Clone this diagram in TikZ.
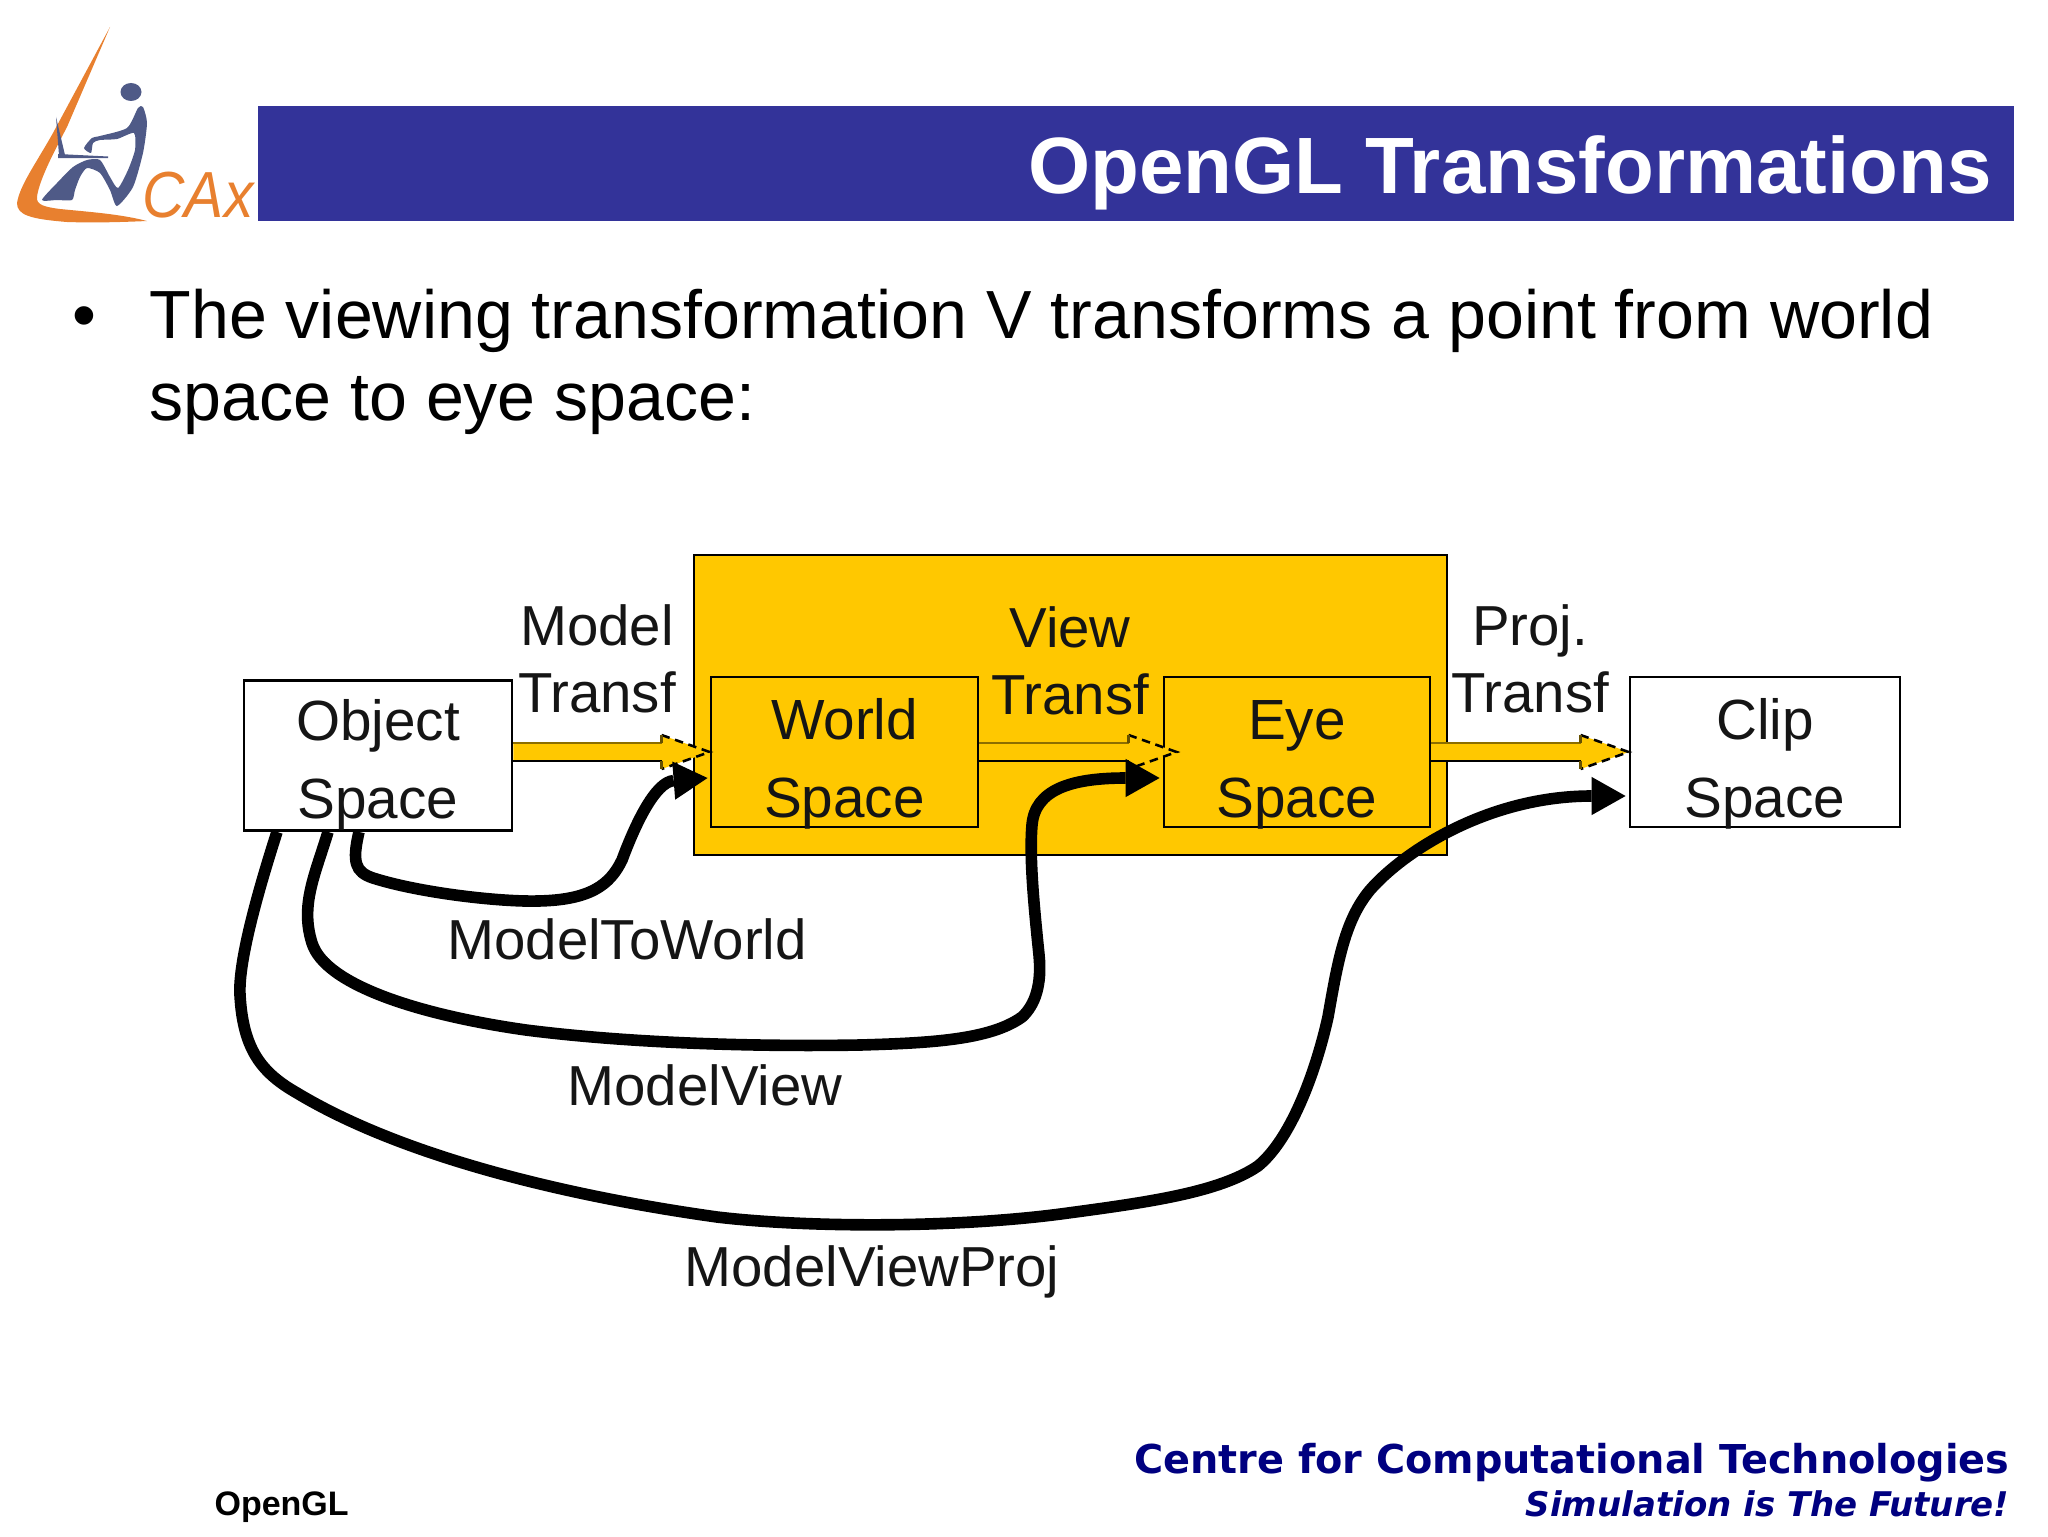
\documentclass[tikz,border=0pt]{standalone}
\usepackage{fontspec}
\setmainfont{Liberation Sans}
\newfontfamily\footfont{DejaVu Sans}
\usetikzlibrary{arrows.meta,calc}
\definecolor{bandblue}{HTML}{333399}
\definecolor{flowyellow}{HTML}{FFC800}
\definecolor{logoorange}{HTML}{E8802F}
\definecolor{logogrey}{HTML}{4F5A87}
\definecolor{footblue}{HTML}{000080}
\definecolor{labelblack}{HTML}{151515}
\newcommand{\pxu}{0.0124023cm}
\newcommand{\boxlines}[1]{\rule{0pt}{22pt}#1\\\smash{Space}\rule[-3.3pt]{0pt}{3.3pt}}
\tikzset{
    space box/.style 2 args={draw=black,line width=1pt,inner sep=0pt,minimum width=#1*\pxu,minimum height=#2*\pxu,align=center,text=labelblack,font=\fontsize{20}{27.4}\selectfont},
    diagram label/.style={inner sep=0pt,align=center,text=labelblack,font=\fontsize{19.9}{23.7}\selectfont},
    curve arr/.style={line width=4.1pt,-{Triangle[length=12pt,width=13.5pt,line width=0pt,round]},black},
    flow edge/.style={line width=.9pt},
}
\newcommand{\flowarrow}[2]{
    \fill[flowyellow] ($(#1)+(0,-9)$) -- ($(#2)+(-48,-9)$) -- ($(#2)+(-48,-17)$) -- (#2) -- ($(#2)+(-48,17)$) -- ($(#2)+(-48,9)$) -- ($(#1)+(0,9)$) -- cycle;
    \draw[flow edge,black] ($(#1)+(0,9)$) -- ($(#2)+(-48,9)$);
    \draw[flow edge,black!45!flowyellow] ($(#1)+(0,-9)$) -- ($(#2)+(-48,-9)$);
    \draw[flow edge,black,densely dashed] ($(#2)+(-48,-17)$) -- (#2) -- ($(#2)+(-48,17)$);
    \draw[flow edge,black!60!flowyellow] ($(#2)+(-48,-17)$) -- ($(#2)+(-48,-9)$) ($(#2)+(-48,9)$) -- ($(#2)+(-48,17)$);
}
\begin{document}
\begin{tikzpicture}[x=\pxu,y=-\pxu]
    \useasboundingbox (0,0) rectangle (2048,1536);
    % logo
    \fill[logoorange] (110,27) -- (53,133) .. controls (35,165) and (20,185) .. (17,203) .. controls (17,215) and (30,219) .. (67,222) .. controls (95,223) and (125,222) .. (147,221) .. controls (120,214) and (90,212) .. (60,209) .. controls (45,207) and (36,205) .. (37,197) .. controls (39,180) and (55,150) .. (67,127) -- cycle;
    \fill[logogrey] (131,92) ellipse (10.5 and 9);
    \fill[logogrey] plot[smooth cycle,tension=.4] coordinates {(138,108) (127,128) (100,136) (92,138) (84,148) (91,153) (93,143) (100,140) (117,139) (134,133) (135,150) (128,170) (118,188) (110,177) (100,160) (87,160) (73,167) (57,183) (42,200) (57,200) (72,200) (75,190) (80,177) (87,168) (100,173) (110,190) (117,206) (133,187) (143,153) (147,123) (143,107)};
    \fill[logogrey] (56,117) -- (65,155) -- (59,155) -- cycle;
    \fill[logogrey] (58,154) -- (108,156.5) -- (108,158) -- (58,158) -- cycle;
    \node[anchor=base west,inner sep=0pt,text=logoorange,font=\fontsize{23}{23}\selectfont\itshape] (cax) at (142,217) {\scalebox{.9}[1]{CAx}};
    % title band
    \fill[bandblue] (258,106) rectangle (2014,221);
    \node[anchor=base east,inner sep=0pt,text=white,font=\fontsize{28.2}{28}\selectfont\bfseries] (title) at (1992,193) {OpenGL Transformations};
    % body
    \node[anchor=base west,inner sep=0pt,font=\fontsize{24.05}{24}\selectfont] (bullet) at (72,338) {•};
    \node[anchor=base west,inner sep=0pt,font=\fontsize{24.05}{24}\selectfont] (line1) at (149,338) {The viewing transformation V transforms a point from world};
    \node[anchor=base west,inner sep=0pt,font=\fontsize{24.05}{24}\selectfont] (line2) at (149,420) {space to eye space:};
    % boxes
    \node[draw=black,line width=1pt,fill=flowyellow,minimum width=753*\pxu,minimum height=300*\pxu,inner sep=0pt] (viewbox) at (1070.5,705) {};
    \node[space box={268}{150},fill=white] (object) at (378,755.5) {\rule{0pt}{21pt}Object\\Space};
    \node[space box={267}{150}] (world) at (844.5,752) {\boxlines{World}};
    \node[space box={266}{150}] (eye) at (1297,752) {\boxlines{Eye}};
    \node[space box={270}{150},fill=white] (clip) at (1765,752) {\boxlines{Clip}};
    % labels
    \node[diagram label] (modeltransf) at (597,659) {Model\\Transf};
    \node[diagram label] (viewtransf) at (1070,661) {View\\Transf};
    \node[diagram label] (projtransf) at (1530,659) {Proj.\\Transf};
    \node[diagram label] (modeltoworld) at (627,939) {ModelToWorld};
    \node[diagram label] (modelview) at (705,1085) {ModelView};
    \node[diagram label] (modelviewproj) at (872,1272) {ModelViewProj};
    % yellow arrows
    \coordinate (eyetip) at ($(eye.west)+(14,0)$);
    \flowarrow{object.east|-world.west}{world.west}
    \flowarrow{world.east}{eyetip}
    \flowarrow{eye.east}{clip.west}
    % black arrows
    \coordinate (mstart) at ($(object.south)+(-19,0)$);
    \coordinate (mvstart) at ($(object.south)+(-50,0)$);
    \coordinate (mvpstart) at ($(object.south)+(-101,0)$);
    \coordinate (mend) at ($(world.west)+(-2,26)$);
    \coordinate (mvend) at ($(eye.west)+(-3,26)$);
    \coordinate (mvpend) at ($(clip.west)+(-3,44)$);
    \draw[curve arr] (mstart) .. controls (352,862) and (355,872) .. (373,878) .. controls (420,893) and (500,902) .. (538,901) .. controls (590,900) and (610,885) .. (622,860) .. controls (635,825) and (655,782) .. (mend);
    \draw[curve arr] (mvstart) .. controls (315,875) and (300,905) .. (312,943) .. controls (325,985) and (420,1015) .. (526,1030) .. controls (620,1042) and (740,1047) .. (860,1045) .. controls (930,1043) and (990,1040) .. (1022,1017) .. controls (1035,1005) and (1042,985) .. (1039,955) .. controls (1035,915) and (1029,860) .. (1032,825) .. controls (1035,790) and (1070,778) .. (mvend);
    \draw[curve arr] (mvpstart) .. controls (260,885) and (238,960) .. (240,995) .. controls (243,1050) and (262,1073) .. (297,1093) .. controls (400,1155) and (560,1195) .. (717,1217) .. controls (810,1228) and (960,1228) .. (1068,1213) .. controls (1150,1202) and (1220,1192) .. (1258,1166) .. controls (1290,1140) and (1315,1075) .. (1328,1017) .. controls (1338,960) and (1345,920) .. (1370,890) .. controls (1405,850) and (1490,796) .. (mvpend);
    % footer
    \node[anchor=base west,inner sep=0pt,font=\fontsize{12}{12}\selectfont\bfseries] (footleft) at (214,1515) {OpenGL};
    \node[anchor=base east,inner sep=0pt,text=footblue,font=\footfont\fontsize{14.04}{14}\selectfont\bfseries] (footone) at (2010,1473) {Centre for Computational Technologies};
    \node[anchor=base east,inner sep=0pt,text=footblue,font=\footfont\fontsize{12}{12}\selectfont\bfseries\itshape] (foottwo) at (2010,1516) {Simulation is The Future!};
\end{tikzpicture}
\end{document}
